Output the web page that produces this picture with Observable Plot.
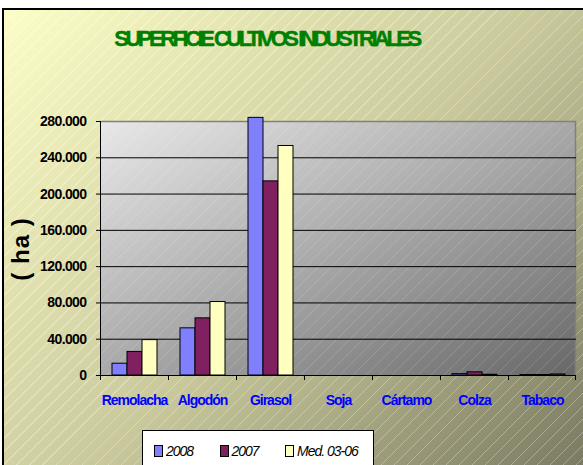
<!DOCTYPE html>
<html><head><meta charset="utf-8">
<script src="https://cdn.jsdelivr.net/npm/d3@7"></script>
<script src="https://cdn.jsdelivr.net/npm/@observablehq/plot@0.6"></script>
<style>
body{margin:0;background:#fff;}
#wrap{position:relative;width:583px;height:465px;overflow:hidden;font-family:"Liberation Sans",Arial,sans-serif;}
#bg{position:absolute;left:2px;top:8px;width:620px;height:480px;border-top:2px solid #000;border-left:2px solid #000;
 background: repeating-linear-gradient(135deg, rgba(255,255,255,0) 0px, rgba(255,255,255,0) 8.2px, rgba(255,255,255,0.3) 8.2px, rgba(255,255,255,0.3) 9.2px),
 linear-gradient(135deg,#fdfdc6 0%,#c8c89b 50%,#70705a 100%);}
#title{position:absolute;left:0;width:533px;top:28px;text-align:center;font-size:22px;line-height:22px;font-weight:bold;color:#008000;letter-spacing:-3.5px;white-space:nowrap;-webkit-text-stroke:0.4px #008000;}
#ylab{position:absolute;left:21px;top:249px;transform:translate(-50%,-50%) rotate(-90deg);font-size:24px;font-weight:bold;white-space:nowrap;letter-spacing:1px;}
#chart{position:absolute;left:0;top:0;}
#legend{position:absolute;left:142px;top:430px;width:232px;height:60px;background:#fff;border:1px solid #000;display:flex;padding-left:11px;box-sizing:border-box;padding-top:14px;}
#legend .item{width:65.5px;display:flex;align-items:center;height:12px;}
#legend .sw{width:7px;height:10px;border:1px solid #000;margin-right:3px;flex:none;}
#legend .lt{font-size:14px;font-style:italic;letter-spacing:-1px;white-space:nowrap;}
</style>
</head><body>
<div id="wrap">
  <div id="bg"></div>
  <div id="title"></div>
  <div id="ylab"></div>
  <div id="chart"></div>
  <div id="legend"></div>
</div>
<script>
const titleText = "SUPERFICIE CULTIVOS INDUSTRIALES";
const yLabel = "( ha )";
const categories = ["Remolacha","Algodón","Girasol","Soja","Cártamo","Colza","Tabaco"];
const series = ["2008","2007","Med. 03-06"];
const v2008 = [13000, 52000, 284000, 0, 0, 1500, 500];
const v2007 = [26000, 63000, 214000, 0, 0, 3500, 500];
const vMed  = [39000, 81000, 253000, 0, 0, 800, 1200];
const yTicks = [0, 40000, 80000, 120000, 160000, 200000, 240000, 280000];
const colors = ["#8080ff", "#802060", "#ffffc0"];

document.getElementById("title").textContent = titleText;
document.getElementById("ylab").textContent = yLabel;

const values = [v2008, v2007, vMed];
const data = categories.flatMap((c, i) => series.map((s, j) => ({cat: c, s, v: values[j][i]})));

const loc = d3.formatLocale({decimal: ",", thousands: ".", grouping: [3], currency: ["", ""]});
const fmt = loc.format(",d");

const plot = Plot.plot({
  width: 583, height: 465,
  marginLeft: 99, marginRight: 7, marginTop: 121, marginBottom: 90,
  style: {background: "transparent", overflow: "visible", fontFamily: "Liberation Sans, Arial, sans-serif"},
  fx: {domain: categories, padding: 0, axis: "bottom", label: null, tickSize: 0, tickPadding: 20},
  x: {domain: series, axis: null, paddingInner: 0, paddingOuter: 0.7},
  y: {domain: [0, 280000], ticks: yTicks, tickFormat: fmt, tickSize: 4, tickPadding: 10, label: null},
  color: {domain: series, range: colors},
  marks: [
    Plot.ruleY(yTicks.slice(1, -1), {stroke: "#000", strokeWidth: 1}),
    // invisible marks keep every category facet non-empty
    Plot.barY(data, {fx: "cat", x: "s", y: "v", fillOpacity: 0, strokeOpacity: 0}),
    Plot.barY(data.filter(d => d.v > 0), {fx: "cat", x: "s", y: "v", fill: "s", stroke: "#000", strokeWidth: 1})
  ]
});
document.getElementById("chart").appendChild(plot);

// decorate using the plot's own scales
const svg = d3.select(plot);
const fx = plot.scale("fx"), y = plot.scale("y");
const x0 = fx.apply(categories[0]);
const x1 = fx.apply(categories[categories.length - 1]) + fx.bandwidth;
const yTop = y.apply(280000), yBot = y.apply(0);

const defs = svg.insert("defs", ":first-child");
const g = defs.append("linearGradient").attr("id", "pg").attr("x1", 0).attr("y1", 0).attr("x2", 1).attr("y2", 1);
g.append("stop").attr("offset", "0%").attr("stop-color", "#e8e8e8");
g.append("stop").attr("offset", "50%").attr("stop-color", "#a9a9a9");
g.append("stop").attr("offset", "100%").attr("stop-color", "#686868");
const pat = defs.append("pattern").attr("id", "hatch").attr("patternUnits", "userSpaceOnUse").attr("width", 13).attr("height", 13);
pat.append("path").attr("d", "M-1,14 L14,-1").attr("stroke", "rgba(255,255,255,0.15)").attr("stroke-width", 1);

const back = svg.insert("g", "defs + *");
back.append("rect").attr("x", x0).attr("y", yTop).attr("width", x1 - x0).attr("height", yBot - yTop).attr("fill", "url(#pg)");
back.append("rect").attr("x", x0).attr("y", yTop).attr("width", x1 - x0).attr("height", yBot - yTop).attr("fill", "url(#hatch)");
back.append("path").attr("d", `M${x0},${yTop + 0.5}H${x1 - 0.5}V${yBot}`).attr("fill", "none").attr("stroke", "#808080").attr("stroke-width", 1.5);

const front = svg.append("g");
front.append("path").attr("d", `M${x0 + 0.5},${yTop}V${yBot + 0.5}H${x1}`).attr("fill", "none").attr("stroke", "#000").attr("stroke-width", 1);
categories.forEach(c => {
  const xx = fx.apply(c);
  front.append("line").attr("x1", xx + 0.5).attr("x2", xx + 0.5).attr("y1", yBot).attr("y2", yBot + 5).attr("stroke", "#000");
});
front.append("line").attr("x1", x1 - 0.5).attr("x2", x1 - 0.5).attr("y1", yBot).attr("y2", yBot + 5).attr("stroke", "#000");

// style texts
const yLabels = new Set(yTicks.map(fmt));
svg.selectAll("text").each(function() {
  const t = this.textContent;
  if (categories.includes(t)) {
    d3.select(this).attr("fill", "#0000ff").style("font-size", "14px").style("font-weight", "bold").style("letter-spacing", "-1px");
  } else if (yLabels.has(t)) {
    d3.select(this).attr("fill", "#000").style("font-size", "14px").style("font-weight", "bold").style("letter-spacing", "-0.6px");
  }
});

// legend
const leg = d3.select("#legend");
series.forEach((s, i) => {
  const it = leg.append("div").attr("class", "item");
  it.append("div").attr("class", "sw").style("background", colors[i]);
  it.append("span").attr("class", "lt").text(s);
});
</script>
</body></html>
